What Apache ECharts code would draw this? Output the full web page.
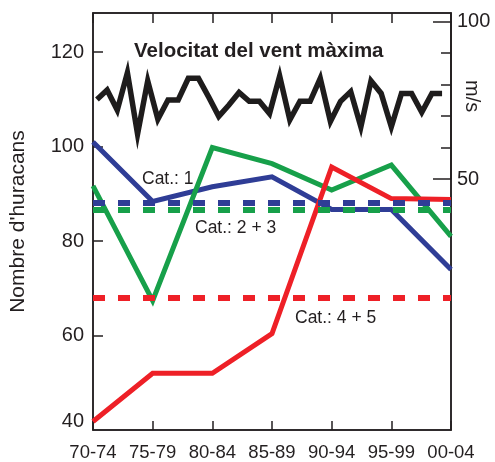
<!DOCTYPE html>
<html>
<head>
<meta charset="utf-8">
<script src="https://cdn.jsdelivr.net/npm/echarts@6/dist/echarts.min.js"></script>
<style>html,body{margin:0;padding:0;background:#fff;}#c{width:495px;height:462px;}</style>
</head>
<body>
<div id="c"></div>
<script>
// Categories (5-year periods)
const categories = ['70-74', '75-79', '80-84', '85-89', '90-94', '95-99', '00-04'];
// Number of hurricanes per category group (left axis)
const cat1 = [101, 88.4, 91.5, 93.6, 86.7, 86.7, 74];
const cat23 = [91.7, 67.4, 99.8, 96.4, 90.8, 96.1, 81];
const cat45 = [41.8, 52.0, 52.0, 60.4, 95.7, 89.0, 88.8];
// Averages (dashed lines)
const avgCat1 = 88.1;
const avgCat23 = 86.7;
const avgCat45 = 67.9;
// Maximum wind speed per year (right axis, m/s)
const years = [1970,1971,1972,1973,1974,1975,1976,1977,1978,1979,1980,1981,1982,1983,1984,1985,1986,1987,1988,1989,1990,1991,1992,1993,1994,1995,1996,1997,1998,1999,2000,2001,2002,2003,2004];
const windSpeed = [75.3,78.3,71.9,83.8,64.3,81.2,69.0,75.1,75.1,82.0,82.0,76.1,69.9,73.5,77.5,74.7,74.7,70.8,82.7,68.8,74.7,74.7,82.0,68.3,74.7,77.8,66.6,81.2,77.2,66.6,77.2,77.2,71.2,77.2,77.2];
// Tick labels
const leftTicks = [40, 60, 80, 100, 120];
const rightLabelTicks = [50, 100];

const FONT = 'Liberation Sans, Arial, Helvetica, sans-serif';
const TXT = '#231f20';
const BLUE = '#2f3d96', GREEN = '#17a04a', RED = '#ee2027', BLACK = '#1e1c1c';

const chart = echarts.init(document.getElementById('c'), null, {renderer: 'canvas'});
const yL = {min: 40, max: 128.3};
const yR = {min: -29.8, max: 102.77};

function dashLine(val, color) {
  return {
    silent: true, symbol: 'none', label: {show: false},
    lineStyle: {color: color, width: 6, type: [12, 13]},
    data: [{yAxis: val}], animation: false
  };
}

chart.setOption({
  animation: false,
  textStyle: {fontFamily: FONT},
  grid: [
    {left: 92, right: 44, top: 13, bottom: 32, show: true, borderColor: TXT, borderWidth: 1.5, backgroundColor: 'transparent'},
    // sub-grid covering exactly the 50–100 m/s band of the right axis (for its 10 m/s ticks)
    {left: 92, right: 44, top: 21.7, bottom: 283, show: false}
  ],
  xAxis: [
    {type: 'category', data: categories, boundaryGap: false, position: 'bottom',
     axisLine: {show: true, onZero: false, lineStyle: {color: TXT, width: 1.5}},
     axisTick: {show: true, inside: true, length: 9, interval: 0, lineStyle: {color: TXT, width: 1.5}},
     axisLabel: {fontSize: 18.5, color: TXT, margin: 13, interval: 0, fontFamily: FONT},
     splitLine: {show: false}},
    {type: 'category', data: categories, boundaryGap: false, position: 'top',
     axisLine: {show: true, onZero: false, lineStyle: {color: TXT, width: 1.5}},
     axisTick: {show: true, inside: true, length: 10, interval: 0, lineStyle: {color: TXT, width: 1.5}},
     axisLabel: {show: false}, splitLine: {show: false}},
    {type: 'value', min: 1969.61, max: 2004.88, show: false, axisLine: {onZero: false}},
    {type: 'value', gridIndex: 1, min: 0, max: 1, show: false, axisLine: {onZero: false}}
  ],
  yAxis: [
    {type: 'value', position: 'left', min: yL.min, max: yL.max, interval: 20,
     name: "Nombre d'huracans", nameLocation: 'middle', nameGap: 64, nameRotate: 90,
     nameTextStyle: {fontSize: 21, color: TXT, fontFamily: FONT},
     axisLine: {show: true, onZero: false, lineStyle: {color: TXT, width: 1.5}},
     axisTick: {show: true, inside: true, length: 10, customValues: [60, 80, 100, 120], lineStyle: {color: TXT, width: 1.5}},
     axisLabel: {fontSize: 20, color: TXT, margin: 9, customValues: leftTicks, fontFamily: FONT,
       formatter: function (v) { return v === 40 ? '{a|40}' : String(v); },
       rich: {a: {fontSize: 20, color: TXT, fontFamily: FONT, padding: [0, 0, 18, 0]}}},
     splitLine: {show: false}},
    {type: 'value', position: 'right', min: yR.min, max: yR.max,
     axisLine: {show: true, onZero: false, lineStyle: {color: TXT, width: 1.5}},
     axisTick: {show: true, inside: true, length: 18, customValues: rightLabelTicks, lineStyle: {color: TXT, width: 1.5}},
     axisLabel: {fontSize: 20, color: TXT, margin: 6, customValues: rightLabelTicks, fontFamily: FONT},
     splitLine: {show: false}},
    {type: 'value', gridIndex: 1, position: 'right', min: 50, max: 100, interval: 10,
     axisLine: {show: true, onZero: false, lineStyle: {color: TXT, width: 1.5}},
     axisTick: {show: true, inside: true, length: 10, lineStyle: {color: TXT, width: 1.5}},
     axisLabel: {show: true, fontSize: 12, margin: 6,
       formatter: function (v) { return '{h|' + v + '}'; },
       rich: {h: {color: 'rgba(255,255,255,0)', fontSize: 12}}},
     splitLine: {show: false}}
  ],
  series: [
    {name: 'Cat.: 4 + 5 mitjana', type: 'line', xAxisIndex: 0, yAxisIndex: 0, data: [], markLine: dashLine(avgCat45, RED)},
    {name: 'Cat.: 2 + 3 mitjana', type: 'line', xAxisIndex: 0, yAxisIndex: 0, data: [], markLine: dashLine(avgCat23, GREEN)},
    {name: 'Cat.: 1 mitjana', type: 'line', xAxisIndex: 0, yAxisIndex: 0, data: [], markLine: dashLine(avgCat1, BLUE)},
    {name: 'Cat.: 1', type: 'line', xAxisIndex: 0, yAxisIndex: 0, data: cat1, symbol: 'none',
     lineStyle: {color: BLUE, width: 5, join: 'miter'}, z: 3},
    {name: 'Cat.: 2 + 3', type: 'line', xAxisIndex: 0, yAxisIndex: 0, data: cat23, symbol: 'none',
     lineStyle: {color: GREEN, width: 5, join: 'miter'}, z: 3},
    {name: 'Cat.: 4 + 5', type: 'line', xAxisIndex: 0, yAxisIndex: 0, data: cat45, symbol: 'none',
     lineStyle: {color: RED, width: 5, join: 'miter'}, z: 4},
    {name: 'Velocitat', type: 'line', xAxisIndex: 2, yAxisIndex: 1,
     data: years.map((y, i) => [y, windSpeed[i]]), symbol: 'none',
     lineStyle: {color: BLACK, width: 5.5, join: 'miter', miterLimit: 10}, z: 5},
    {name: 'eix m/s', type: 'line', xAxisIndex: 3, yAxisIndex: 2, data: [], silent: true}
  ],
  graphic: [
    {type: 'text', left: 134, top: 41, style: {text: 'Velocitat del vent màxima', font: 'bold 20.5px ' + FONT, fill: TXT}},
    {type: 'text', left: 142, top: 170, style: {text: 'Cat.: 1', font: '17.5px ' + FONT, fill: TXT}},
    {type: 'text', left: 195, top: 219, style: {text: 'Cat.: 2 + 3', font: '17.5px ' + FONT, fill: TXT}},
    {type: 'text', left: 295, top: 309, style: {text: 'Cat.: 4 + 5', font: '17.5px ' + FONT, fill: TXT}},
    {type: 'text', x: 462, y: 80, rotation: -Math.PI / 2, style: {text: 'm/s', font: '20px ' + FONT, fill: TXT, textAlign: 'left', textVerticalAlign: 'bottom'}}
  ]
});
</script>
</body>
</html>
